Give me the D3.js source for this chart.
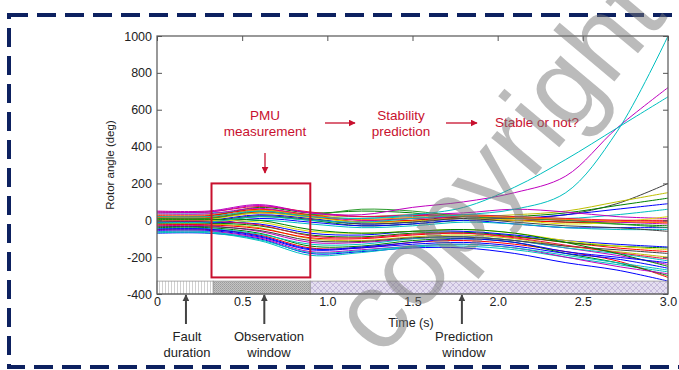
<!DOCTYPE html>
<html>
<head>
<meta charset="utf-8">
<script src="https://cdn.jsdelivr.net/npm/d3@7"></script>
<style>
  body { margin: 0; background: #fff; }
  svg { display: block; font-family: "Liberation Sans", Arial, sans-serif; }
</style>
</head>
<body>
<div id="chart"></div>
<script>
// sample times (s)
const times = [0, 0.3, 0.6, 0.9, 1.2, 1.5, 1.8, 2.1, 2.4, 2.7, 3.0];

// rotor angle trajectories (deg)
const curves = [
  // ends in the upper bundle
  {color: "#404040", values: [10, 10, 40, 20, -10, 0, 20, 10, 30, 90, 200]},
  {color: "#bfbf00", values: [30, 30, 60, 30, 20, 30, 20, 30, 50, 100, 150]},
  {color: "#008000", values: [20, 22, 70, 40, 50, 40, 10, 20, 40, 80, 120]},
  {color: "#0000ff", values: [0, 0, 30, 10, -20, -10, 10, 10, 30, 60, 90]},
  {color: "#00bfbf", values: [40, 40, 50, 20, 10, 20, 30, 20, 10, 30, 60]},
  {color: "#bf00bf", values: [50, 50, 85, 40, 20, 30, 40, 60, 45, 20, 10]},
  {color: "#ff0000", values: [25, 25, 60, 30, 0, 10, 20, 10, 0, 0, 0]},
  {color: "#008000", values: [-10, -10, 20, 0, -30, -20, 0, 0, -10, -20, -30]},
  {color: "#ff0000", values: [15, 15, 45, 20, -10, 0, 10, 0, -10, -10, -10]},
  {color: "#0000ff", values: [-20, -20, 10, -10, -30, -20, 0, -20, -40, -40, -40]},
  {color: "#dede00", values: [5, 5, 40, 15, -10, -5, 10, 0, -20, -10, 20]},
  {color: "#bf00bf", values: [35, 35, 65, 25, 0, 10, 20, 10, 0, -10, -20]},
  {color: "#00bfbf", values: [-30, -30, 0, -20, -40, -30, -10, -20, -40, -50, -50]},
  {color: "#e8103c", values: [45, 45, 75, 45, 20, 25, 30, 20, 10, 0, -5]},
  {color: "#404040", values: [-5, -5, 25, 5, -20, -10, 10, -10, -30, -40, -60]},
  {color: "#2a9a2a", values: [10, 10, 50, 30, 60, 50, 20, 10, 0, -20, -40]},
  {color: "#ff8000", values: [18, 18, 55, 25, 5, 15, 25, 15, 5, -5, -15]},
  // ends in the lower bundle
  {color: "#0000ff", values: [-70, -70, -100, -180, -170, -150, -150, -180, -230, -270, -330]},
  {color: "#00bfbf", values: [-68, -68, -110, -190, -175, -145, -140, -160, -200, -240, -280]},
  {color: "#ff0000", values: [-50, -50, -80, -150, -150, -120, -110, -130, -170, -220, -310]},
  {color: "#008000", values: [-40, -40, -70, -140, -140, -110, -100, -120, -180, -230, -300]},
  {color: "#0000ff", values: [-55, -55, -90, -160, -150, -130, -120, -140, -180, -210, -260]},
  {color: "#bf00bf", values: [-30, -30, -60, -120, -120, -100, -90, -110, -150, -190, -240]},
  {color: "#bfbf00", values: [-20, -20, -40, -100, -110, -90, -80, -100, -140, -170, -200]},
  {color: "#00bfbf", values: [-45, -45, -75, -130, -130, -100, -90, -110, -150, -180, -220]},
  {color: "#404040", values: [-35, -35, -55, -110, -115, -95, -90, -110, -140, -160, -180]},
  {color: "#ff0000", values: [-25, -25, -45, -95, -100, -80, -70, -90, -120, -150, -170]},
  {color: "#008000", values: [-15, -15, -30, -80, -90, -70, -65, -85, -120, -140, -150]},
  {color: "#0000ff", values: [-10, -10, -20, -70, -80, -60, -60, -80, -110, -130, -145]},
  {color: "#bf00bf", values: [-60, -60, -95, -170, -160, -140, -130, -150, -200, -250, -290]},
  {color: "#dede00", values: [0, 0, -10, -60, -70, -60, -50, -70, -110, -140, -160]},
  {color: "#e8103c", values: [-5, -5, -25, -85, -95, -75, -70, -95, -135, -175, -210]},
  {color: "#00bfbf", values: [-62, -62, -105, -175, -165, -140, -130, -150, -190, -230, -270]},
  {color: "#008000", values: [5, 5, 0, -50, -70, -60, -50, -70, -120, -180, -250]},
  {color: "#0000ff", values: [-48, -48, -85, -155, -145, -120, -100, -120, -170, -200, -230]},
  // unstable ones
  {color: "#bf00bf", values: [45, 45, 80, 40, 30, 70, 100, 150, 240, 500, 720]},
  {color: "#00bfbf", values: [20, 20, 50, 20, 10, 30, 70, 180, 330, 500, 670]},
  {color: "#00bfbf", values: [-10, -10, 20, 0, -10, 10, 30, 60, 150, 480, 1000]}
];

const xTicks = [0, 0.5, 1.0, 1.5, 2.0, 2.5, 3.0];
const xTickLabels = ["0", "0.5", "1.0", "1.5", "2.0", "2.5", "3.0"];
const yTicks = [-400, -200, 0, 200, 400, 600, 800, 1000];
const yTickLabels = ["-400", "-200", "0", "200", "400", "600", "800", "1000"];

// windows along the time axis (s)
const faultWindow = [0, 0.33];
const obsWindow = [0.33, 0.9];
const predWindow = [0.9, 3.0];
const bandRange = [-400, -330];
const pmuBox = {t0: 0.32, t1: 0.9, y0: -310, y1: 200};

const width = 679, height = 370;
const red = "#c8102e";

const svg = d3.select("#chart").append("svg")
  .attr("width", width)
  .attr("height", height);

const x = d3.scaleLinear().domain([0, 3]).range([157, 668]);
const y = d3.scaleLinear().domain([-400, 1000]).range([294, 36]);

// patterns for the time bands
const defs = svg.append("defs");
const pf = defs.append("pattern").attr("id", "fault")
  .attr("patternUnits", "userSpaceOnUse").attr("width", 3).attr("height", 3);
pf.append("rect").attr("width", 3).attr("height", 3).attr("fill", "#fff");
pf.append("rect").attr("width", 1).attr("height", 3).attr("fill", "#d0d0d0");

const po = defs.append("pattern").attr("id", "obs")
  .attr("patternUnits", "userSpaceOnUse").attr("width", 2).attr("height", 2);
po.append("rect").attr("width", 2).attr("height", 2).attr("fill", "#c4c4c4");
po.append("rect").attr("width", 1).attr("height", 1).attr("fill", "#9c9c9c");
po.append("rect").attr("x", 1).attr("y", 1).attr("width", 1).attr("height", 1).attr("fill", "#a8a8a8");

const pp = defs.append("pattern").attr("id", "pred")
  .attr("patternUnits", "userSpaceOnUse").attr("width", 6).attr("height", 6);
pp.append("rect").attr("width", 6).attr("height", 6).attr("fill", "#e4def0");
pp.append("path").attr("d", "M0,0L6,6M6,0L0,6").attr("stroke", "#c4b9da").attr("stroke-width", 1);

defs.append("clipPath").attr("id", "plotClip")
  .append("rect").attr("x", 157).attr("y", 36).attr("width", 511).attr("height", 258);

// dashed frame
svg.append("rect")
  .attr("x", 9).attr("y", 15).attr("width", 700).attr("height", 352)
  .attr("fill", "none")
  .attr("stroke", "#0d2160")
  .attr("stroke-width", 4)
  .attr("stroke-dasharray", "19,9");

// curves
const line = d3.line()
  .x((d, i) => x(times[i]))
  .y(d => y(d))
  .curve(d3.curveCatmullRom.alpha(0.5));

svg.append("g").attr("clip-path", "url(#plotClip)")
  .selectAll("path")
  .data(curves)
  .enter()
  .append("path")
  .attr("d", d => line(d.values))
  .attr("fill", "none")
  .attr("stroke", d => d.color)
  .attr("stroke-width", 1);

// bands
const bands = [
  {w: faultWindow, fill: "url(#fault)"},
  {w: obsWindow, fill: "url(#obs)"},
  {w: predWindow, fill: "url(#pred)"}
];
svg.selectAll(".band")
  .data(bands)
  .enter()
  .append("rect")
  .attr("x", d => x(d.w[0]))
  .attr("y", y(bandRange[1]))
  .attr("width", d => x(d.w[1]) - x(d.w[0]))
  .attr("height", y(bandRange[0]) - y(bandRange[1]))
  .attr("fill", d => d.fill)
  .attr("stroke", "#999")
  .attr("stroke-width", 0.8);

// PMU box
svg.append("rect")
  .attr("x", x(pmuBox.t0))
  .attr("y", y(pmuBox.y1))
  .attr("width", x(pmuBox.t1) - x(pmuBox.t0))
  .attr("height", y(pmuBox.y0) - y(pmuBox.y1))
  .attr("fill", "none")
  .attr("stroke", red)
  .attr("stroke-width", 2);

// axes box (MATLAB style, ticks inward)
const axisColor = "#555";
svg.append("rect")
  .attr("x", 157).attr("y", 36).attr("width", 511).attr("height", 258)
  .attr("fill", "none").attr("stroke", axisColor).attr("stroke-width", 1.2);

const gx = svg.append("g").attr("transform", "translate(0,294)")
  .call(d3.axisBottom(x).tickValues(xTicks).tickSize(0).tickPadding(3)
    .tickFormat((d, i) => xTickLabels[i]));
const gy = svg.append("g").attr("transform", "translate(157,0)")
  .call(d3.axisLeft(y).tickValues(yTicks).tickSize(-5).tickPadding(5)
    .tickFormat((d, i) => yTickLabels[i]));
const gyr = svg.append("g").attr("transform", "translate(668,0)")
  .call(d3.axisRight(y).tickValues(yTicks).tickSize(-5).tickFormat(""));
const gxt = svg.append("g").attr("transform", "translate(0,36)")
  .call(d3.axisTop(x).tickValues(xTicks).tickSize(-5).tickFormat(""));

[gx, gy, gyr, gxt].forEach(g => {
  g.select(".domain").remove();
  g.selectAll("line").attr("stroke", axisColor);
  g.selectAll("text").attr("fill", "#222").style("font-size", "12.5px")
    .style("font-family", "'Liberation Sans', Arial, sans-serif");
});

svg.append("text")
  .attr("transform", "translate(114,165) rotate(-90)")
  .attr("text-anchor", "middle")
  .attr("fill", "#222")
  .style("font-size", "11.5px")
  .text("Rotor angle (deg)");

svg.append("text")
  .attr("x", 411).attr("y", 327)
  .attr("text-anchor", "middle")
  .attr("fill", "#222")
  .style("font-size", "12.5px")
  .text("Time (s)");

// arrow markers
function marker(id, color) {
  defs.append("marker").attr("id", id)
    .attr("viewBox", "0 0 10 10").attr("refX", 9).attr("refY", 5)
    .attr("markerWidth", 7).attr("markerHeight", 7)
    .attr("markerUnits", "userSpaceOnUse")
    .attr("orient", "auto")
    .append("path").attr("d", "M0,0L10,5L0,10z").attr("fill", color);
}
marker("redHead", red);
marker("grayHead", "#444");

// red flow annotations
const redLabels = [
  {x: 265, lines: ["PMU", "measurement"], y: 120},
  {x: 401, lines: ["Stability", "prediction"], y: 120}
];
redLabels.forEach(l => {
  l.lines.forEach((s, i) => {
    svg.append("text").attr("x", l.x).attr("y", l.y + i * 16)
      .attr("text-anchor", "middle").attr("fill", red)
      .style("font-size", "13.5px").text(s);
  });
});
svg.append("text").attr("x", 495).attr("y", 127)
  .attr("fill", red).style("font-size", "13.5px").text("Stable or not?");

const redArrows = [
  [325, 123, 355, 123],
  [446, 123, 477, 123],
  [265, 153, 265, 173]
];
svg.selectAll(".redArrow").data(redArrows).enter().append("line")
  .attr("x1", d => d[0]).attr("y1", d => d[1])
  .attr("x2", d => d[2]).attr("y2", d => d[3])
  .attr("stroke", red).attr("stroke-width", 1.3)
  .attr("marker-end", "url(#redHead)");

// bottom labels with arrows
const notes = [
  {t: 0.17, tx: 187, lines: ["Fault", "duration"]},
  {t: 0.63, tx: 269, lines: ["Observation", "window"]},
  {t: 1.79, tx: 464, lines: ["Prediction", "window"]}
];
notes.forEach(n => {
  svg.append("line")
    .attr("x1", x(n.t)).attr("y1", 324)
    .attr("x2", x(n.t)).attr("y2", 295)
    .attr("stroke", "#444").attr("stroke-width", 2)
    .attr("marker-end", "url(#grayHead)");
  n.lines.forEach((s, i) => {
    svg.append("text").attr("x", n.tx).attr("y", 341 + i * 16)
      .attr("text-anchor", "middle").attr("fill", "#222")
      .style("font-size", "13px").text(s);
  });
});

// watermark
svg.append("text")
  .attr("transform", "translate(525,188) rotate(-50)")
  .attr("text-anchor", "middle")
  .attr("fill", "#777")
  .attr("fill-opacity", 0.5)
  .style("font-size", "110px")
  .text("copyright");
</script>
</body>
</html>
